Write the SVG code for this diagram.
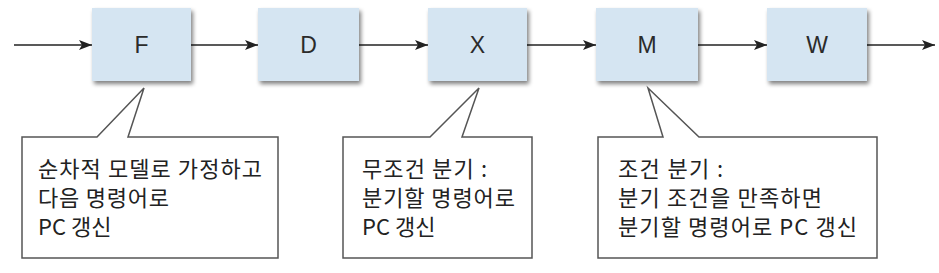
<svg xmlns="http://www.w3.org/2000/svg" width="939" height="273" viewBox="0 0 939 273">
<style>
.box{fill:#d5e5f2;filter:url(#sh)}
.lbl{font-family:"Liberation Sans",Arial,sans-serif;font-size:23px;fill:#2b2b2b;text-anchor:middle}
.call{fill:#fff;stroke:#555;stroke-width:1.5}
.ct{font-family:"Noto Sans CJK KR","Liberation Sans",sans-serif;font-size:22px;fill:#222}
.ar{stroke:#222;stroke-width:1.6;fill:none;marker-end:url(#ah)}
</style>
<defs>
<filter id="sh" x="-10%" y="-10%" width="125%" height="130%">
<feGaussianBlur in="SourceAlpha" stdDeviation="2"/>
<feOffset dx="2" dy="3" result="b"/>
<feComponentTransfer><feFuncA type="linear" slope="0.5"/></feComponentTransfer>
<feMerge><feMergeNode/><feMergeNode in="SourceGraphic"/></feMerge>
</filter>
<marker id="ah" markerWidth="14" markerHeight="10" refX="13" refY="5" orient="auto" markerUnits="userSpaceOnUse">
<path d="M0,0 L13,5 L0,10 L3,5 Z" fill="#222"/>
</marker>
</defs>
<rect width="939" height="273" fill="#fff"/>
<g id="connectors">
<line class="ar" x1="14" y1="45" x2="92" y2="45"/>
<line class="ar" x1="191" y1="45" x2="258" y2="45"/>
<line class="ar" x1="359" y1="45" x2="428" y2="45"/>
<line class="ar" x1="527" y1="45" x2="596" y2="45"/>
<line class="ar" x1="698" y1="45" x2="767" y2="45"/>
<line class="ar" x1="867" y1="45" x2="935" y2="45"/>
</g>
<g id="F"><rect class="box" x="92" y="8" width="99" height="73"/><text class="lbl" x="141.5" y="53">F</text></g>
<g id="D"><rect class="box" x="258" y="8" width="101" height="73"/><text class="lbl" x="308.5" y="53">D</text></g>
<g id="X"><rect class="box" x="428" y="8" width="99" height="73"/><text class="lbl" x="477.5" y="53">X</text></g>
<g id="M"><rect class="box" x="596" y="8" width="102" height="73"/><text class="lbl" x="647" y="53">M</text></g>
<g id="W"><rect class="box" x="767" y="8" width="100" height="73"/><text class="lbl" x="817" y="53">W</text></g>
<g id="callout1">
<path class="call" d="M22,137 H97 L144,88 L128,137 H278 V258 H22 Z"/>
<text class="ct" x="38" y="177" textLength="224" lengthAdjust="spacing">순차적 모델로 가정하고</text>
<text class="ct" x="38" y="206" textLength="131" lengthAdjust="spacing">다음 명령어로</text>
<text class="ct" x="38" y="235">PC 갱신</text>
</g>
<g id="callout2">
<path class="call" d="M343,137 H430 L479,88 L462,137 H532 V258 H343 Z"/>
<text class="ct" x="362" y="177" textLength="125" lengthAdjust="spacing">무조건 분기 :</text>
<text class="ct" x="362" y="206" textLength="153" lengthAdjust="spacing">분기할 명령어로</text>
<text class="ct" x="362" y="235">PC 갱신</text>
</g>
<g id="callout3">
<path class="call" d="M598,137 H663 L648,88 L699,137 H877 V258 H598 Z"/>
<text class="ct" x="618" y="177" textLength="105" lengthAdjust="spacing">조건 분기 :</text>
<text class="ct" x="618" y="206" textLength="204" lengthAdjust="spacing">분기 조건을 만족하면</text>
<text class="ct" x="618" y="235" textLength="239" lengthAdjust="spacing">분기할 명령어로 PC 갱신</text>
</g>
</svg>
